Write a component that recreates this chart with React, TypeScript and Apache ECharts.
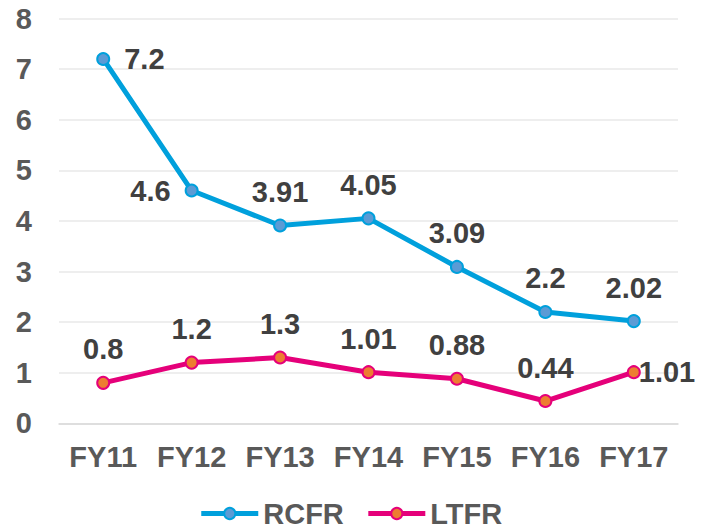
import React, { useEffect, useRef } from "react";
import * as echarts from "echarts";

const categories = ["FY11", "FY12", "FY13", "FY14", "FY15", "FY16", "FY17"];
const rcfr = [7.2, 4.6, 3.91, 4.05, 3.09, 2.2, 2.02];
const ltfr = [0.8, 1.2, 1.3, 1.01, 0.88, 0.44, 1.01];
const rcfrLabelPos = ["right", "left", "top", "top", "top", "top", "top"];
const ltfrLabelPos = ["top", "top", "top", "top", "top", "top", "right"];

const FONT = "Arial, 'Liberation Sans', sans-serif";
const FS = 29;

export default function App() {
  const ref = useRef<HTMLDivElement>(null);
  useEffect(() => {
    if (!ref.current) return;
    const chart = echarts.init(ref.current, undefined, { renderer: "svg" });
    const labelBase = {
      show: true,
      fontSize: FS,
      fontWeight: "bold",
      fontFamily: FONT,
      color: "#404040",
    };
    const mk = (vals: number[], pos: string[]) =>
      vals.map((v, i) => ({
        value: v,
        label: {
          position: pos[i],
          distance: pos[i] === "top" ? 12 : pos[i] === "left" ? 14 : i === 0 ? 14 : -2,
        },
      }));
    chart.setOption({
      animation: false,
      backgroundColor: "#ffffff",
      grid: { left: 59, right: 23, top: 18.5, bottom: 105.7 },
      legend: {
        top: 494,
        left: "center",
        itemWidth: 57,
        itemHeight: 14,
        itemGap: 22,
        lineStyle: { width: 5 },
        textStyle: { fontSize: FS, fontWeight: "bold", fontFamily: FONT, color: "#595959" },
        data: ["RCFR", "LTFR"],
      },
      xAxis: {
        type: "category",
        data: categories,
        boundaryGap: true,
        axisLine: { lineStyle: { color: "#d9d9d9", width: 1.5 } },
        axisTick: { show: false },
        axisLabel: { interval: 0, fontSize: FS, fontWeight: "bold", fontFamily: FONT, color: "#595959", margin: 19 },
      },
      yAxis: {
        type: "value",
        min: 0,
        max: 8,
        interval: 1,
        axisLine: { show: false },
        axisTick: { show: false },
        splitLine: { lineStyle: { color: "#e8e8e8", width: 1.5 } },
        axisLabel: { fontSize: FS, fontWeight: "bold", fontFamily: FONT, color: "#595959", margin: 27 },
      },
      series: [
        {
          name: "RCFR",
          type: "line",
          data: mk(rcfr, rcfrLabelPos),
          symbol: "circle",
          symbolSize: 12,
          lineStyle: { color: "#00a0dc", width: 5 },
          itemStyle: { color: "#5b9bd5", borderColor: "#00a0dc", borderWidth: 2 },
          label: labelBase,
        },
        {
          name: "LTFR",
          type: "line",
          data: mk(ltfr, ltfrLabelPos),
          symbol: "circle",
          symbolSize: 12,
          lineStyle: { color: "#e5007a", width: 5 },
          itemStyle: { color: "#ed7d31", borderColor: "#e5007a", borderWidth: 2 },
          label: labelBase,
        },
      ],
    });
    return () => chart.dispose();
  }, []);
  return <div ref={ref} style={{ position: "fixed", left: 0, top: 0, width: 701, height: 529 }} />;
}
